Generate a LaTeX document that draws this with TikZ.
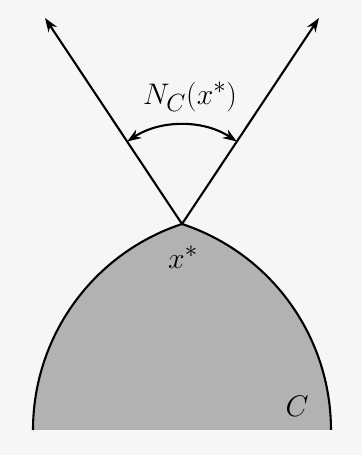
\documentclass[tikz,border=0pt]{standalone}
\usetikzlibrary{arrows.meta}
\definecolor{bgc}{HTML}{F6F6F6}
\definecolor{setc}{HTML}{B2B2B2}
\begin{document}
\begin{tikzpicture}[x=1bp,y=1bp,
  edge/.style={line width=2.1bp},
  tip/.tip={Stealth[length=14bp,width=10bp]},
  ray/.style={edge,-tip},
  lbl/.style={font=\Huge, inner sep=0pt, scale=1.2, transform shape}]
\fill[bgc] (0,0) rectangle (362,455);
\useasboundingbox (0,0) rectangle (362,455);
\coordinate (bl) at (33,25);
\coordinate (br) at (331,25);
\coordinate (apex) at (182,231);
\coordinate (ltip) at (45,437);
\coordinate (rtip) at (319,437);
% set C
\fill[setc] (bl) arc[start angle=180,end angle=108.25,radius=216.9]
  arc[start angle=71.75,end angle=0,radius=216.9] -- cycle;
\draw[edge] (bl) arc[start angle=180,end angle=108.25,radius=216.9];
\draw[edge] (apex) arc[start angle=71.75,end angle=0,radius=216.9];
% normal cone rays
\draw[ray] (apex) -- (ltip);
\draw[ray] (apex) -- (rtip);
% angle arc
\draw[edge,tip-tip]
  ([shift={(123.6:99)}]apex) arc[start angle=123.6,end angle=56.4,radius=99];
\node[lbl] (nc) at (190,358) {$N_C(x^*)$};
\node[lbl] (xs) at (183,198) {$x^*$};
\node[lbl] (cc) at (297,49) {$C$};
\end{tikzpicture}
\end{document}
